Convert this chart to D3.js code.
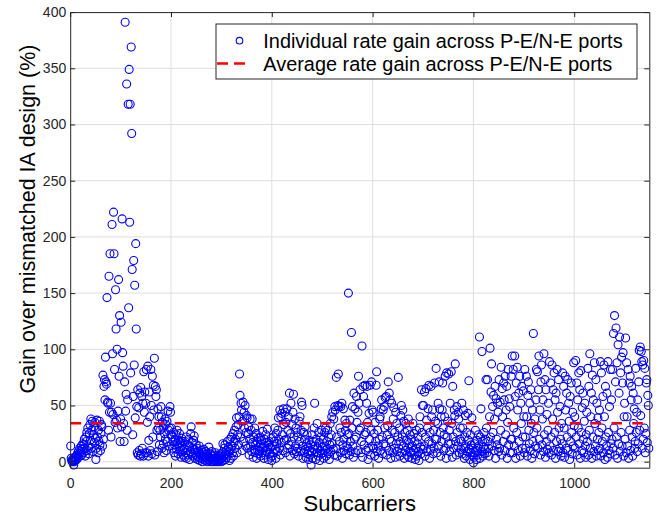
<!DOCTYPE html>
<html>
<head>
<meta charset="utf-8">
<script src="https://cdn.jsdelivr.net/npm/d3@7"></script>
<style>
    body { margin: 0; background: #fff; }
    text { font-family: "Liberation Sans", Arial, sans-serif; }
</style>
</head>
<body>
<script>
// gain (%) per subcarrier in blocks of 200 subcarriers
const gain0 = [
    14,3,1,0,2,1,-3,0,4,1,3,5,2,6,8,4,10,7,12,5,9,14,6,11,16,
    8,15,20,12,5,22,18,26,10,30,14,7,25,33,19,38,12,28,36,9,24,31,17,35,21,
    2,12,37,22,8,28,18,36,15,10,25,33,31,14,77,20,67,73,55,93,71,69,146,53,52,
    28,165,44,185,52,22,44,211,96,42,222,185,82,35,153,118,37,100,30,45,162,76,130,18,38,
    124,31,216,97,85,34,18,71,391,45,60,336,28,55,318,137,349,213,318,79,369,292,171,24,58,
    179,86,157,39,194,118,49,8,64,6,48,10,61,5,66,7,58,12,52,5,80,44,62,8,52,
    82,8,35,85,5,19,62,40,10,82,50,7,76,22,68,46,92,6,67,58,64,28,9,47,30,
    40,15,28,22,49,40,12,35,30,16,8,25,38,20,33,10,36,18,45,28,14,30,49,44,24
];
const gain1 = [
    30,22,12,18,26,8,15,20,5,24,11,28,16,7,19,13,25,9,17,4,21,14,10,18,6,
    12,4,18,8,22,3,15,10,6,20,14,2,9,25,31,7,17,12,5,19,23,11,3,8,15,
    6,12,2,9,4,14,1,7,3,10,5,0,8,2,11,4,6,1,9,3,7,0,5,2,13,
    4,1,7,0,3,9,2,5,0,6,1,3,8,0,2,4,1,6,0,3,5,1,2,7,0,
    3,8,16,1,5,12,15,2,7,10,4,18,6,13,9,1,20,11,3,22,14,8,25,5,17,
    28,12,20,31,39,8,24,33,15,40,78,59,22,52,46,10,36,53,18,44,30,50,14,26,41,
    39,12,25,31,6,20,38,14,28,9,38,17,4,22,11,30,8,15,25,3,18,10,21,7,13,
    10,22,5,16,19,8,27,12,3,20,14,6,24,9,17,29,11,2,15,18,7,13,4,21,1
];
const gain2 = [
    5,14,22,8,18,30,11,3,25,16,9,28,39,20,12,46,6,40,17,43,24,10,47,33,19,
    44,8,35,20,47,12,28,40,15,61,5,25,52,18,33,10,44,60,22,7,38,14,30,9,26,
    12,22,5,36,18,40,9,28,53,50,14,3,26,8,20,31,11,4,16,24,7,13,2,19,10,
    6,15,-3,9,24,3,18,11,30,52,14,2,20,8,34,12,5,26,17,1,10,22,7,28,13,
    8,20,3,14,26,10,30,5,18,12,28,7,22,2,15,34,9,24,40,16,44,11,38,6,49,
    46,12,75,22,5,50,78,49,18,30,8,49,26,52,3,15,47,20,10,37,28,7,34,14,24,
    12,150,25,6,37,18,9,115,30,49,14,4,61,20,47,8,22,58,35,10,44,76,52,28,64,
    30,8,18,103,4,67,58,15,24,68,26,10,52,67,35,2,12,43,20,68,6,28,71,46,14
];
const gain3 = [
    44,12,25,5,35,18,68,80,9,28,14,3,20,38,40,10,47,55,22,7,46,16,49,30,57,
    14,58,6,24,32,71,10,61,20,55,3,18,52,28,8,38,48,12,26,4,44,16,34,9,22,
    75,12,30,5,18,41,50,8,22,46,14,36,3,26,10,34,19,6,28,12,38,4,16,24,9,
    8,20,3,14,34,10,25,6,18,2,12,28,5,16,22,9,1,30,40,13,7,64,26,50,11,
    50,14,62,5,22,65,37,9,30,47,18,68,3,26,11,67,40,16,46,7,28,12,70,20,36,
    83,20,8,34,52,14,71,47,26,5,40,18,46,70,30,10,24,40,76,12,3,79,22,36,16,
    78,28,9,52,16,80,34,4,67,22,12,46,41,87,18,6,49,26,14,44,38,8,20,30,11,
    18,52,7,30,46,12,3,22,41,14,5,26,9,43,19,72,11,2,24,8,15,39,6,12,-1
];
const gain4 = [
    4,16,8,28,10,2,19,12,6,24,14,111,3,22,47,9,98,18,5,13,26,7,11,20,73,
    30,8,73,18,12,5,40,101,22,62,87,14,49,26,59,10,38,67,3,56,20,15,52,44,9,
    73,12,53,28,84,6,65,40,18,70,55,10,76,24,46,67,3,35,82,15,56,49,8,20,76,
    20,94,8,82,30,14,94,58,3,70,26,84,46,10,61,18,76,5,52,34,67,12,22,63,40,
    8,82,22,12,76,40,5,59,71,28,16,52,10,64,34,3,46,18,114,26,7,38,14,55,82,
    30,80,12,64,94,20,46,6,71,86,15,38,55,9,96,24,73,4,64,18,42,11,28,52,8,
    89,14,70,22,6,86,38,64,10,79,26,55,3,61,18,82,44,9,73,30,12,49,20,5,34,
    16,79,8,67,30,4,76,46,12,61,22,73,10,52,36,2,58,18,70,26,7,44,14,88,32
];
const gain5 = [
    40,12,90,22,70,6,55,30,79,16,64,3,81,26,10,48,61,20,8,36,52,14,4,24,44,
    18,83,6,67,28,96,12,40,61,3,77,22,55,9,88,34,14,73,5,52,20,39,10,26,46,
    12,89,5,79,30,18,58,8,86,40,2,67,22,14,61,4,89,26,10,49,7,82,16,55,20,
    82,12,114,30,130,6,71,119,22,88,3,104,16,61,111,9,79,26,93,14,70,97,5,40,52,
    20,110,8,88,40,14,82,3,70,28,76,10,55,67,22,5,61,34,47,12,18,83,26,44,9,
    55,16,71,99,28,102,41,98,89,12,86,20,90,30,83,8,25,70,73,17,59,50,12
];
const avgGain = 34.2;

const xTicks = [0, 200, 400, 600, 800, 1000];
const yTicks = [0, 50, 100, 150, 200, 250, 300, 350, 400];
const legendLabels = ['Individual rate gain across P-E/N-E ports', 'Average rate gain across P-E/N-E ports'];

const width = 662, height = 516;
const axisColor = '#262626';

const gain = [].concat(gain0, gain1, gain2, gain3, gain4, gain5);
const points = gain.map((g, i) => ({sc: i + 1, g: g}));

const x = d3.scaleLinear().domain([0, 1149]).range([70.2, 649.3]);
const y = d3.scaleLinear().domain([-5.34, 400]).range([467.7, 12.1]);

const svg = d3.select('body').append('svg')
    .attr('width', width)
    .attr('height', height)
    .style('display', 'block');

svg.append('rect').attr('width', width).attr('height', height).attr('fill', '#fff');

// grid
const grid = svg.append('g').attr('stroke', '#dedede').attr('stroke-width', 1);
grid.selectAll('line.gx')
    .data(xTicks.filter(d => d > 0))
    .enter().append('line')
    .attr('x1', d => x(d)).attr('x2', d => x(d))
    .attr('y1', y.range()[0]).attr('y2', y.range()[1]);
grid.selectAll('line.gy')
    .data(yTicks.filter(d => d < 400))
    .enter().append('line')
    .attr('y1', d => y(d)).attr('y2', d => y(d))
    .attr('x1', x.range()[0]).attr('x2', x.range()[1]);

// individual gains
svg.append('g')
    .selectAll('circle')
    .data(points)
    .enter().append('circle')
    .attr('cx', d => x(d.sc))
    .attr('cy', d => y(d.g))
    .attr('r', 4)
    .attr('fill', 'none')
    .attr('stroke', '#0000ff')
    .attr('stroke-width', 1.1);

// average gain
svg.append('line')
    .attr('x1', x(1)).attr('x2', x(gain.length))
    .attr('y1', y(avgGain)).attr('y2', y(avgGain))
    .attr('stroke', '#ff0000')
    .attr('stroke-width', 2.6)
    .attr('stroke-dasharray', '10.5,10.3');

// axes
function styleAxis(g) {
    g.selectAll('path, line').attr('stroke', axisColor);
    g.selectAll('text')
        .attr('fill', axisColor)
        .style('font-size', '14px')
        .style('font-family', '"Liberation Sans", Arial, sans-serif');
}

svg.append('g')
    .attr('transform', 'translate(0,' + y.range()[0] + ')')
    .call(d3.axisBottom(x).tickValues(xTicks).tickFormat(d3.format('d'))
        .tickSizeInner(-5).tickSizeOuter(0).tickPadding(10))
    .call(styleAxis);
svg.append('g')
    .attr('transform', 'translate(0,' + y.range()[1] + ')')
    .call(d3.axisTop(x).tickValues(xTicks).tickSizeInner(-5).tickSizeOuter(0).tickFormat(''))
    .call(styleAxis);
svg.append('g')
    .attr('transform', 'translate(' + x.range()[0] + ',0)')
    .call(d3.axisLeft(y).tickValues(yTicks).tickFormat(d3.format('d'))
        .tickSizeInner(-5).tickSizeOuter(0).tickPadding(4))
    .call(styleAxis);
svg.append('g')
    .attr('transform', 'translate(' + x.range()[1] + ',0)')
    .call(d3.axisRight(y).tickValues(yTicks).tickSizeInner(-5).tickSizeOuter(0).tickFormat(''))
    .call(styleAxis);

svg.selectAll('.domain').attr('stroke-width', 1);

// axis labels
svg.append('text')
    .attr('x', (x.range()[0] + x.range()[1]) / 2)
    .attr('y', 511)
    .attr('text-anchor', 'middle')
    .style('font-size', '22px')
    .attr('fill', '#000')
    .text('Subcarriers');

svg.append('text')
    .attr('transform', 'translate(35,219) rotate(-90)')
    .attr('text-anchor', 'middle')
    .style('font-size', '21.5px')
    .attr('fill', '#000')
    .text('Gain over mismatched IA design (%)');

// legend
const legend = svg.append('g');
legend.append('rect')
    .attr('x', 216).attr('y', 24)
    .attr('width', 421).attr('height', 55)
    .attr('fill', '#fff')
    .attr('stroke', axisColor)
    .attr('stroke-width', 1);
legend.append('circle')
    .attr('cx', 239.5).attr('cy', 40.7).attr('r', 3.3)
    .attr('fill', 'none').attr('stroke', '#0000ff').attr('stroke-width', 1.1);
legend.append('line')
    .attr('x1', 217).attr('x2', 245)
    .attr('y1', 63.5).attr('y2', 63.5)
    .attr('stroke', '#ff0000').attr('stroke-width', 2.6)
    .attr('stroke-dasharray', '11,6');
legend.selectAll('text')
    .data(legendLabels)
    .enter().append('text')
    .attr('x', 263.3)
    .attr('y', (d, i) => 48 + i * 22.7)
    .style('font-size', '19.9px')
    .attr('fill', '#000')
    .text(d => d);
</script>
</body>
</html>
